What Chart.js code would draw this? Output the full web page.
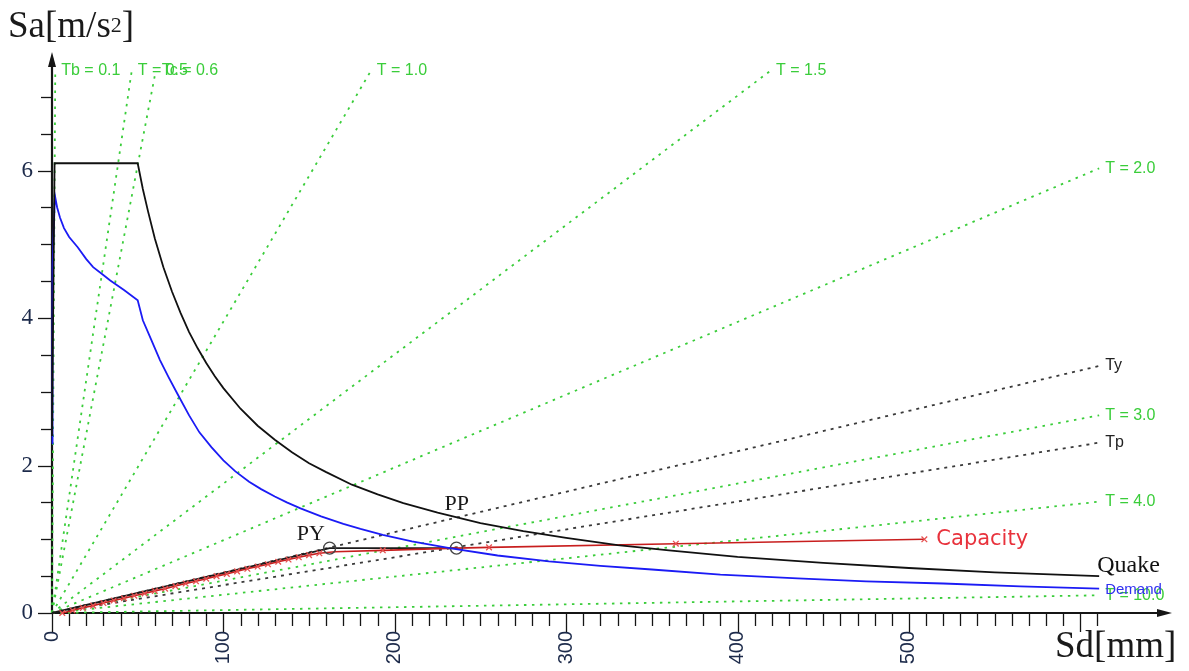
<!DOCTYPE html>
<html>
<head>
<meta charset="utf-8">
<script src="https://cdn.jsdelivr.net/npm/chart.js@4.4.1/dist/chart.umd.min.js"></script>
<style>
  html, body { margin: 0; padding: 0; background: #fff; }
  #wrap { width: 1189px; height: 671px; }
</style>
</head>
<body>
<div id="wrap"><canvas id="chart" width="1189" height="671"></canvas></div>
<script>
// values: Sd in mm, Sa in m/s2
const quakeSd = [0, 1.5, 50, 53, 56, 60, 65, 70, 75, 80, 85, 90, 95, 100, 110, 120, 130, 140, 150, 160, 175, 190, 205, 225, 250, 275, 300, 330, 360, 400, 450, 500, 550, 611];
const quakeSa = [2.4, 6.1, 6.1, 5.75, 5.45, 5.08, 4.69, 4.36, 4.07, 3.81, 3.59, 3.39, 3.21, 3.05, 2.77, 2.54, 2.35, 2.18, 2.03, 1.91, 1.74, 1.61, 1.49, 1.36, 1.22, 1.11, 1.02, 0.92, 0.85, 0.76, 0.68, 0.61, 0.55, 0.50];

const demandSd = [0, 0.3, 1.7, 3, 4.7, 7, 10, 15, 20, 24, 29, 34, 42, 50, 53, 58, 63, 68, 73, 80, 86, 93, 100, 107, 115, 122, 130, 137, 145, 157, 170, 180, 193, 210, 232, 260, 290, 320, 350, 390, 435, 475, 520, 565, 611];
const demandSa = [2.3, 4.7, 5.66, 5.5, 5.36, 5.22, 5.1, 4.96, 4.8, 4.69, 4.6, 4.51, 4.38, 4.24, 3.97, 3.70, 3.43, 3.2, 2.98, 2.68, 2.45, 2.25, 2.07, 1.92, 1.78, 1.68, 1.58, 1.50, 1.42, 1.31, 1.21, 1.14, 1.06, 0.97, 0.88, 0.78, 0.70, 0.64, 0.59, 0.52, 0.47, 0.43, 0.40, 0.36, 0.33];

const capSd = [6, 12, 18, 24, 30, 36, 42, 48, 54, 60, 66, 72, 78, 84, 90, 96, 102, 108, 114, 120, 126, 132, 138, 144, 150, 156, 165, 193, 236, 255, 364, 509];
const capSa = [0, 0.035, 0.07, 0.10, 0.135, 0.17, 0.20, 0.235, 0.265, 0.30, 0.33, 0.365, 0.40, 0.43, 0.465, 0.50, 0.53, 0.565, 0.60, 0.63, 0.66, 0.695, 0.725, 0.755, 0.785, 0.81, 0.83, 0.85, 0.88, 0.89, 0.94, 1.00];
const capNoMark = [165, 236];

const bilinSd = [0, 162, 236];
const bilinSa = [0, 0.88, 0.88];

const perfNames = ['PY', 'PP'];
const perfSd = [162, 236];
const perfSa = [0.88, 0.88];

const tLabels = ['Tb = 0.1', 'T = 0.5', 'Tc = 0.6', 'T = 1.0', 'T = 1.5', 'T = 2.0', 'T = 3.0', 'T = 4.0', 'T = 10.0'];
const tEndSd = [1.9, 46.5, 60.5, 186, 419, 611, 611, 611, 611];
const tEndSa = [7.35, 7.35, 7.35, 7.35, 7.35, 6.03, 2.68, 1.51, 0.24];

const secLabels = ['Ty', 'Tp'];
const secEndSd = [611, 611];
const secEndSa = [3.35, 2.31];

const xTickLabels = [0, 100, 200, 300, 400, 500];
const yTickLabels = [0, 2, 4, 6];

const pts = (xs, ys) => xs.map((v, i) => ({ x: v, y: ys[i] }));

const GREEN = '#3acd3a';
const serif = "'Liberation Serif', 'DejaVu Serif', serif";
const sans = "'Liberation Sans', Arial, sans-serif";

const datasets = [
    { label: 'Quake', data: pts(quakeSd, quakeSa), borderColor: '#111', borderWidth: 1.8, pointRadius: 0 },
    { label: 'Demand', data: pts(demandSd, demandSa), borderColor: '#1b1bf5', borderWidth: 1.8, pointRadius: 0 },
    { label: 'Perf', data: pts(perfSd, perfSa), showLine: false, pointStyle: 'circle', pointRadius: 6,
      pointBackgroundColor: 'rgba(0,0,0,0)', pointBorderColor: '#444', pointBorderWidth: 1.4 },
    { label: 'Capacity', data: pts(capSd, capSa), borderColor: '#c81e1e', borderWidth: 1.6,
      pointStyle: 'crossRot', pointBorderColor: '#e65050', pointBorderWidth: 1.3,
      pointRadius: c => (capNoMark.includes(capSd[c.dataIndex]) ? 0 : 4) },
    { label: 'Bilinear', data: pts(bilinSd, bilinSa), borderColor: '#1a1a1a', borderWidth: 1.8, pointRadius: 0 }
];
secLabels.forEach((name, i) => {
    datasets.push({ label: name, data: [{ x: 0, y: 0 }, { x: secEndSd[i], y: secEndSa[i] }],
        borderColor: '#3a3a3a', borderWidth: 1.8, borderDash: [3, 5], pointRadius: 0 });
});
tLabels.forEach((name, i) => {
    datasets.push({ label: name, data: [{ x: 0, y: 0 }, { x: tEndSd[i], y: tEndSa[i] }],
        borderColor: GREEN, borderWidth: 1.8, borderDash: [2.5, 5.5], pointRadius: 0 });
});
datasets.forEach(d => { d.showLine = d.showLine !== false; d.clip = false; d.fill = false; });

// axes, arrows, tick marks and the text on the plot
const decor = {
    id: 'decor',
    beforeDatasetsDraw(chart) {
        const { ctx, scales: { x, y } } = chart;
        const x0 = x.getPixelForValue(0), y0 = y.getPixelForValue(0);
        ctx.save();
        ctx.strokeStyle = '#151515';
        ctx.fillStyle = '#151515';
        ctx.lineWidth = 1.3;
        for (let v = 0; v <= 610; v += 10) {
            const px = Math.round(x.getPixelForValue(v)) + 0.5;
            const len = v % 100 === 0 ? 19 : 13;
            ctx.beginPath(); ctx.moveTo(px, y0); ctx.lineTo(px, y0 + len); ctx.stroke();
        }
        for (let v = 0; v <= 7; v += 0.5) {
            const py = Math.round(y.getPixelForValue(v)) + 0.5;
            const len = v % 2 === 0 ? 14 : 11;
            ctx.beginPath(); ctx.moveTo(x0, py); ctx.lineTo(x0 - len, py); ctx.stroke();
        }
        ctx.lineWidth = 2.2;
        ctx.beginPath();
        ctx.moveTo(x0, y0); ctx.lineTo(x0, y.top - 2);
        ctx.moveTo(x0, y0); ctx.lineTo(x.right - 6, y0);
        ctx.stroke();
        ctx.beginPath();
        ctx.moveTo(x0, y.top - 8); ctx.lineTo(x0 - 4, y.top + 7); ctx.lineTo(x0 + 4, y.top + 7); ctx.closePath(); ctx.fill();
        ctx.beginPath();
        ctx.moveTo(x.right + 6, y0); ctx.lineTo(x.right - 9, y0 - 4); ctx.lineTo(x.right - 9, y0 + 4); ctx.closePath(); ctx.fill();
        ctx.restore();
    },
    afterDatasetsDraw(chart) {
        const { ctx, scales: { x, y } } = chart;
        const px = v => x.getPixelForValue(v), py = v => y.getPixelForValue(v);
        ctx.save();
        ctx.textBaseline = 'middle';
        ctx.textAlign = 'left';

        ctx.font = '16px ' + sans;
        ctx.fillStyle = GREEN;
        tLabels.forEach((t, i) => ctx.fillText(t, px(tEndSd[i]) + 6, py(tEndSa[i])));
        ctx.fillStyle = '#222';
        secLabels.forEach((t, i) => ctx.fillText(t, px(secEndSd[i]) + 6, py(secEndSa[i])));

        // curve names
        const qi = quakeSd.length - 1, di = demandSd.length - 1, ci = capSd.length - 1;
        ctx.fillStyle = '#e8323c';
        ctx.font = "21px 'DejaVu Sans', sans-serif";
        ctx.fillText('Capacity', px(capSd[ci]) + 12, py(capSa[ci]));
        ctx.fillStyle = '#3030f0';
        ctx.font = '15px ' + sans;
        ctx.fillText('Demand', px(demandSd[di]) + 6, py(demandSa[di]) + 1);
        ctx.textBaseline = 'alphabetic';
        ctx.fillStyle = '#111';
        ctx.font = '24px ' + serif;
        ctx.fillText('Quake', px(quakeSd[qi]) - 2, py(quakeSa[qi]) - 4);

        ctx.font = '22px ' + serif;
        ctx.fillStyle = '#1a1a1a';
        ctx.fillText(perfNames[0], px(perfSd[0]) - 33, py(perfSa[0]) - 8);
        ctx.fillText(perfNames[1], px(perfSd[1]) - 12, py(perfSa[1]) - 38);

        // axis titles
        ctx.font = '37px ' + serif;
        let tx = 8;
        ctx.fillText('Sa[m/s', tx, 37);
        tx += ctx.measureText('Sa[m/s').width;
        ctx.font = '22px ' + serif;
        ctx.fillText('2', tx, 32);
        tx += ctx.measureText('2').width;
        ctx.font = '37px ' + serif;
        ctx.fillText(']', tx, 37);
        ctx.fillText('Sd[mm]', 1055, 657);
        ctx.restore();
    }
};

new Chart(document.getElementById('chart'), {
    type: 'scatter',
    data: { datasets },
    options: {
        responsive: false,
        animation: false,
        layout: { padding: { top: 60, right: 23, left: 0, bottom: 0 } },
        plugins: { legend: { display: false }, tooltip: { enabled: false } },
        scales: {
            x: {
                type: 'linear', min: 0, max: 650,
                afterFit: s => { s.height = 58; },
                grid: { display: false, drawTicks: false },
                border: { display: false },
                afterBuildTicks: s => { s.ticks = xTickLabels.map(v => ({ value: v })); },
                ticks: { minRotation: 90, maxRotation: 90, autoSkip: false, padding: 18,
                         color: '#1c2a4a', font: { family: sans, size: 20 } }
            },
            y: {
                type: 'linear', min: 0, max: 7.5,
                afterFit: s => { s.width = 52; },
                grid: { display: false, drawTicks: false },
                border: { display: false },
                afterBuildTicks: s => { s.ticks = yTickLabels.map(v => ({ value: v })); },
                ticks: { padding: 19, color: '#1c2a4a', font: { family: serif, size: 23 } }
            }
        }
    },
    plugins: [decor]
});
</script>
</body>
</html>
